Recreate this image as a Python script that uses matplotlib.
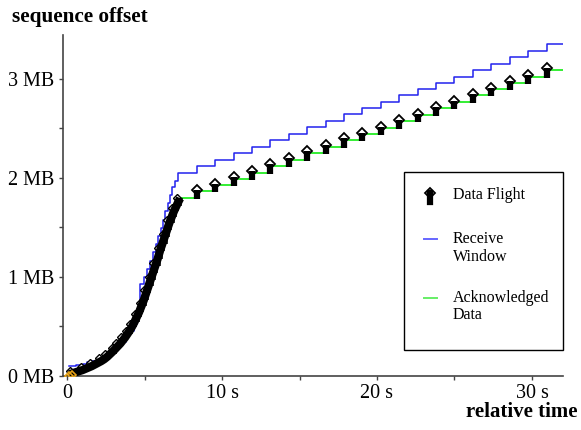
import numpy as np
import matplotlib.pyplot as plt
from matplotlib.patches import Rectangle
from matplotlib.lines import Line2D

plt.rcParams['font.family'] = ['Liberation Serif', 'DejaVu Serif']

# fast start phase: data segment times (s) and top sequence offset (MB)
fast_t = [0.15, 0.3, 0.6, 1.0, 1.3, 1.6, 1.9, 2.2, 2.4, 2.6, 2.8, 3.0, 3.15, 3.3,
          3.45, 3.6, 3.75, 3.9, 4.05, 4.2, 4.35, 4.5, 4.65, 4.8, 4.95, 5.1, 5.25,
          5.4, 5.55, 5.7, 5.85, 6.0, 6.15, 6.3, 6.45, 6.6, 6.75, 6.9, 7.05, 7.2, 7.3]
fast_seq = [0.01, 0.02, 0.035, 0.055, 0.075, 0.095, 0.12, 0.145, 0.165, 0.19, 0.22,
            0.25, 0.275, 0.30, 0.325, 0.355, 0.385, 0.42, 0.455, 0.495, 0.54, 0.59,
            0.64, 0.70, 0.76, 0.83, 0.90, 0.97, 1.04, 1.11, 1.18, 1.26, 1.33, 1.40,
            1.47, 1.54, 1.60, 1.66, 1.71, 1.76, 1.79]

# slow phase: one segment per round
slow_t = [8.37, 9.56, 10.75, 11.93, 13.12, 14.31, 15.50, 16.69, 17.87, 19.06,
          20.25, 21.44, 22.63, 23.81, 25.00, 26.19, 27.38, 28.57, 29.75, 30.94]
slow_seq = [1.86, 1.92, 1.99, 2.05, 2.12, 2.18, 2.25, 2.31, 2.38, 2.44,
            2.50, 2.57, 2.63, 2.70, 2.76, 2.83, 2.89, 2.96, 3.02, 3.09]

# receive window
win_t = [0.15, 0.6, 1.0, 1.3, 1.6, 2.0, 2.3, 2.5, 2.8, 3.0, 3.3, 3.5, 3.8, 4.0,
         4.3, 4.5, 4.71, 4.95, 5.15, 5.35, 5.55, 5.72, 5.90, 6.05, 6.2, 6.35, 6.5,
         6.65, 6.8, 6.95, 7.15]
win_seq = [0.10, 0.11, 0.12, 0.135, 0.15, 0.18, 0.20, 0.22, 0.25, 0.27, 0.31, 0.34,
           0.40, 0.45, 0.52, 0.62, 0.92, 1.00, 1.08, 1.16, 1.25, 1.33, 1.41, 1.49,
           1.57, 1.66, 1.74, 1.82, 1.90, 1.97, 2.05]
win_slow = [2.12, 2.18, 2.25, 2.31, 2.38, 2.44, 2.51, 2.57, 2.64, 2.70,
            2.76, 2.83, 2.89, 2.96, 3.02, 3.09, 3.15, 3.22, 3.28, 3.35]

syn_t = [0.1, 0.3]
syn_seq = [0.0, 0.01]

t_end = 32.1

fig = plt.figure(figsize=(5.81, 4.30), dpi=100)
ax = fig.add_axes([0.1084, 0.1267, 0.8606, 0.7919])

# acknowledged data (green step)
ack_t = fast_t + slow_t + [t_end]
ack_v = fast_seq + slow_seq + [slow_seq[-1]]
ax.step(ack_t, ack_v, where='post', color='#33ee33', lw=1.4, zorder=2)

# receive window (blue step)
wt = win_t + slow_t + [t_end]
wv = win_seq + win_slow + [win_slow[-1]]
ax.step(wt, wv, where='post', color='#2222ee', lw=1.1, zorder=3)

# data segments: fast phase forms a thick band, arrow heads peeking out on the left
ax.plot([t - 0.12 for t in fast_t[1::2]], [v + 0.03 for v in fast_seq[1::2]],
        ls='none', marker='D', ms=4, mfc='white', mec='black', mew=1, zorder=3.5)
ax.plot(fast_t, fast_seq, color='black', lw=6, zorder=4, solid_capstyle='butt')
prev_fast = [0.0] + fast_seq[:-1]
ax.vlines(fast_t, prev_fast, fast_seq, color='black', lw=4, zorder=5)

# slow phase: arrow per segment
prev_slow = [fast_seq[-1]] + slow_seq[:-1]
tops = [v + 0.015 for v in slow_seq]
ax.plot(slow_t, tops, ls='none', marker='D', ms=5, mfc='white', mec='black',
        mew=1.3, zorder=5)
ax.vlines(slow_t, [v - 0.01 for v in prev_slow], tops, color='black', lw=4.5,
          zorder=6)

ax.plot(syn_t, syn_seq, ls='none', marker='D', ms=4.5, mfc='none', mec='#e8a317',
        mew=1.2, zorder=6)

ax.set_xlim(-0.26, 32.0)
ax.set_ylim(0, 3.44)
ax.set_xticks([0, 10, 20, 30])
ax.set_xticklabels(['0', '10 s', '20 s', '30 s'])
ax.set_xticks([5, 15, 25], minor=True)
ax.set_yticks([0, 1, 2, 3])
ax.set_yticklabels(['0 MB', '1 MB', '2 MB', '3 MB'])
ax.set_yticks([0.5, 1.5, 2.5], minor=True)
ax.tick_params(labelsize=14.5, length=3, width=1, color='#444444', pad=3)
ax.tick_params(which='minor', length=3, width=1, color='#444444')
for s in ['top', 'right']:
    ax.spines[s].set_visible(False)
for s in ['left', 'bottom']:
    ax.spines[s].set_color('#444444')
    ax.spines[s].set_linewidth(1.2)


def px(x, y):
    return x / 581, 1 - y / 430


fig.text(*px(12, 17), 'sequence offset', fontsize=15.3, fontweight='bold',
         ha='left', va='center')
fig.text(*px(578, 412), 'relative time', fontsize=15, fontweight='bold',
         ha='right', va='center')

# legend box
x0, y0 = px(404, 350)
fig.patches.append(Rectangle((x0, y0), 159 / 581, 178 / 430, transform=fig.transFigure,
                             fill=False, ec='black', lw=1))
mx, my = px(430, 193)
fig.lines.append(Line2D([mx], [my], transform=fig.transFigure, ls='none', marker='D',
                        ms=5, mfc='white', mec='black', mew=1.3))
a, b = px(430, 193)
_, c = px(430, 202)
fig.lines.append(Line2D([a, a], [b, c], transform=fig.transFigure, color='black', lw=4.5))
for yy, col in [(239, '#6666ff'), (298, '#66ee66')]:
    a, b = px(424, yy)
    e, _ = px(437, yy)
    fig.lines.append(Line2D([a, e], [b, b], transform=fig.transFigure, color=col, lw=1.4))
for yy, s in [(195, 'Data Flight'), (239, 'Receive'), (257, 'Window'),
              (298, 'Acknowledged'), (315, 'Data')]:
    fig.text(*px(453, yy), s, fontsize=11.5, ha='left', va='center')

fig.savefig('out.png', dpi=100)
